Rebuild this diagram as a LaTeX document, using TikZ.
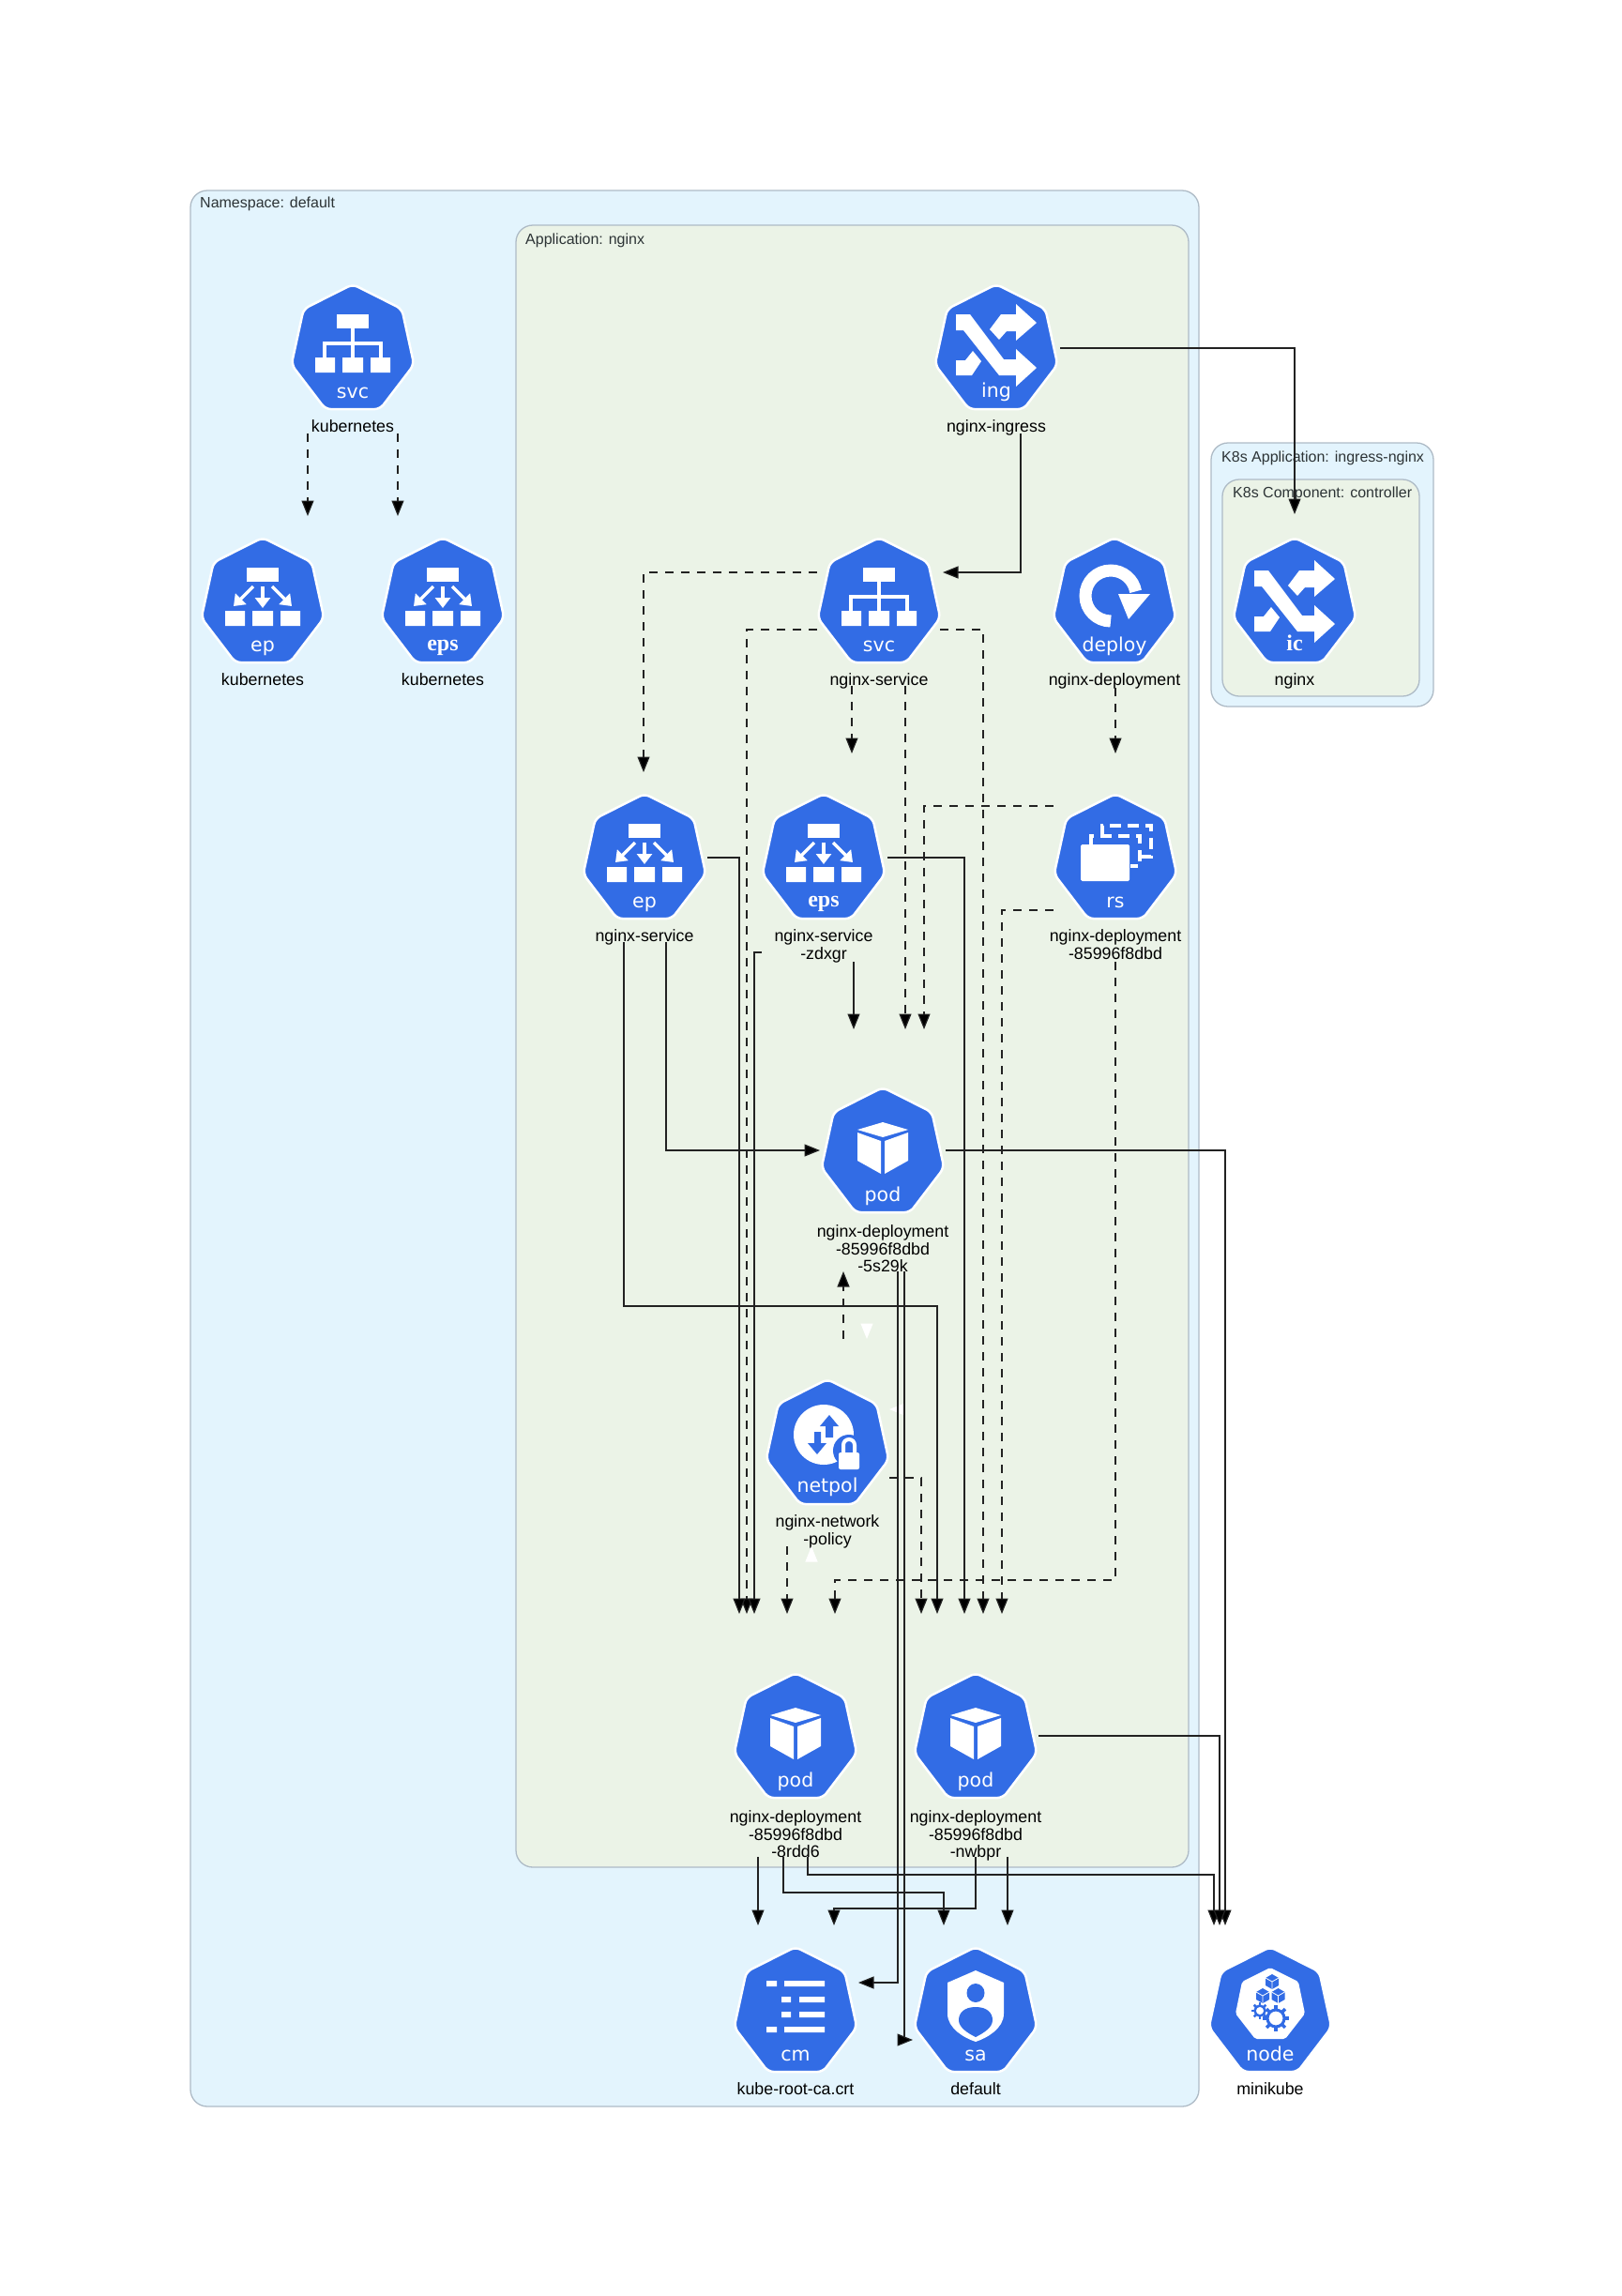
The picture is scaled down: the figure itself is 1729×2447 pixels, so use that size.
\documentclass[tikz,border=0pt]{standalone}
\usepackage{fontspec}
\setmainfont{Liberation Sans}
\newfontfamily\tagfont{DejaVu Sans}
\newfontfamily\tagserif{Liberation Serif}
\usetikzlibrary{shapes.geometric, arrows.meta, positioning}

\definecolor{kblue}{HTML}{326CE5}
\definecolor{nsfill}{HTML}{E3F4FD}
\definecolor{appfill}{HTML}{EBF3E7}
\definecolor{boxedge}{HTML}{AEBBC6}
\definecolor{titletext}{HTML}{2D3436}
\definecolor{linedark}{HTML}{222222}

\tikzstyle{ktag} = [text=white, inner sep=0pt, anchor=base, font=\tagfont\fontsize{20.5}{22}\selectfont]
\tikzstyle{kserif} = [text=white, inner sep=0pt, anchor=base, font=\tagserif\bfseries\fontsize{24}{26}\selectfont]

% shared drawing of the endpoint glyphs
\newcommand{\epshape}{
  \fill[white] (-17,-35) rectangle (17,-20);
  \fill[white] (-40,11) rectangle (-19,27) (-11,11) rectangle (11,27) (19,11) rectangle (40,27);
  \draw[white, line width=3.5pt, -{Triangle[length=11pt,width=16pt]}] (0,-15) -- (0,8);
  \draw[white, line width=3.5pt, -{Triangle[length=11pt,width=16pt]}] (-10,-15) -- (-31,6);
  \draw[white, line width=3.5pt, -{Triangle[length=11pt,width=16pt]}] (10,-15) -- (31,6);
}
\newcommand{\crossshape}{
  \fill[white] (-43,-35) -- (-28,-35) -- (8,13) -- (21,13) -- (21,2) -- (43,22) -- (21,42) -- (21,30) -- (3,30) -- (-35,-18) -- (-43,-18) -- cycle;
  \fill[white] (21,-46) -- (43,-26) -- (21,-7) -- (21,-17) -- (11,-17) -- (3,-8) -- (-7,-19) -- (5,-35) -- (21,-35) -- cycle;
  \fill[white] (-43,14) -- (-33,14) -- (-25,4) -- (-16,15) -- (-26,30) -- (-43,30) -- cycle;
}
\tikzset{
  svcglyph/.pic={
    \fill[white] (-17,-35) rectangle (17,-20);
    \fill[white] (-40,11) rectangle (-19,27) (-11,11) rectangle (11,27) (19,11) rectangle (40,27);
    \draw[white, line width=3.5pt] (0,-20) -- (0,11) (-30,11) -- (-30,-4) -- (30,-4) -- (30,11);
    \node (tag) [ktag] at (0,54) {svc};
  },
  epglyph/.pic={
    \epshape
    \node (tag) [ktag] at (0,54) {ep};
  },
  epsglyph/.pic={
    \epshape
    \node (tag) [kserif] at (0,53) {eps};
  },
  ingglyph/.pic={
    \crossshape
    \node (tag) [ktag] at (0,53) {ing};
  },
  icglyph/.pic={
    \begin{scope}[yshift=-3pt]
      \crossshape
    \end{scope}
    \node (tag) [kserif] at (0,53) {ic};
  },
  deployglyph/.pic={
    \draw[white, line width=13pt] (-4,22) arc (90:350:27);
    \fill[white] (38,-7) -- (4,-7) -- (15,20) -- cycle;
    \node (tag) [ktag] at (0,54) {deploy};
  },
  rsglyph/.pic={
    \draw[white, line width=3.5pt, dash pattern=on 12pt off 7pt] (-26,-13) -- (-26,-22) -- (26,-22) -- (26,10) -- (16,10);
    \draw[white, line width=3.5pt, dash pattern=on 12pt off 7pt] (-14,-22) -- (-14,-33) -- (38,-33) -- (38,0) -- (26,0);
    \fill[white, rounded corners=1.5pt] (-37,-13) rectangle (15,26);
    \node (tag) [ktag] at (0,54) {rs};
  },
  podglyph/.pic={
    \fill[white] (-27,-22) -- (0,-30) -- (27,-22) -- (0,-14) -- cycle;
    \fill[white] (-27,-19) -- (-2,-10) -- (-2,25) -- (-27,11) -- cycle;
    \fill[white] (2,-10) -- (27,-19) -- (27,11) -- (2,25) -- cycle;
    \node (tag) [ktag] at (0,54) {pod};
  },
  netpolglyph/.pic={
    \fill[white] (-4,-8) circle (32);
    \fill[kblue] (2,-29) -- (12,-17) -- (6,-17) -- (6,-5) -- (-2,-5) -- (-2,-17) -- (-8,-17) -- cycle;
    \fill[kblue] (-11,13) -- (-21,1) -- (-14,1) -- (-14,-11) -- (-7,-11) -- (-7,1) -- (-1,1) -- cycle;
    \fill[kblue] (23,9) circle (17);
    \draw[white, line width=4pt] (17,13) -- (17,3) arc (180:360:6) -- (29,13);
    \fill[white, rounded corners=2pt] (12,11) rectangle (34,29);
    \node (tag) [ktag] at (0,53) {netpol};
  },
  cmglyph/.pic={
    \fill[white] (-31,-31) rectangle (-20,-25) (-12,-31) rectangle (31,-25);
    \fill[white] (-15,-14) rectangle (-5,-8) (4,-14) rectangle (31,-8);
    \fill[white] (-15,2) rectangle (-5,8) (4,2) rectangle (31,8);
    \fill[white] (-31,18) rectangle (-20,24) (-12,18) rectangle (31,24);
    \node (tag) [ktag] at (0,54) {cm};
  },
  saglyph/.pic={
    \fill[white] (0,-42) -- (30,-29) -- (30,4) .. controls (30,20) and (12,30) .. (0,34) .. controls (-12,30) and (-30,20) .. (-30,4) -- (-30,-29) -- cycle;
    \fill[kblue] (0,-18) ellipse (9.5 and 10);
    \fill[kblue] (0,-3) .. controls (12,-3) and (18,3) .. (18,11) .. controls (18,19) and (8,25) .. (0,29) .. controls (-8,25) and (-18,19) .. (-18,11) .. controls (-18,3) and (-12,-3) .. (0,-3) -- cycle;
    \node (tag) [ktag] at (0,54) {sa};
  },
  nodeglyph/.pic={
    \fill[white, rounded corners=2pt] (0,-45) -- (30,-30) -- (37,4) -- (16,31) -- (-16,31) -- (-37,4) -- (-30,-30) -- cycle;
    \foreach \cx/\cy in {2/-30, -8/-15, 8.5/-15} {
      \fill[kblue] (\cx,\cy-8) -- (\cx+7,\cy-4) -- (\cx+7,\cy+4) -- (\cx,\cy+8) -- (\cx-7,\cy+4) -- (\cx-7,\cy-4) -- cycle;
      \draw[white, line width=0.8pt] (\cx-7,\cy-4) -- (\cx,\cy) -- (\cx+7,\cy-4) (\cx,\cy) -- (\cx,\cy+8);
    }
    \draw[kblue, line width=3pt] (6,9) circle (9);
    \foreach \a in {0,45,...,315} {\draw[kblue, line width=3.5pt] (6,9) ++(\a:9) -- ++(\a:5);}
    \draw[kblue, line width=2.5pt] (-11,1) circle (5.5);
    \foreach \a in {0,45,...,315} {\draw[kblue, line width=2.5pt] (-11,1) ++(\a:5.5) -- ++(\a:3.5);}
    \node (tag) [ktag] at (0,54) {node};
  },
}

\begin{document}
\begin{tikzpicture}[x=1pt, y=-1pt, node distance=11.5pt]
    \tikzstyle{kicon} = [regular polygon, regular polygon sides=7, minimum size=134pt, inner sep=0pt, outer sep=0pt, fill=kblue, draw=white, line width=2.5pt, rounded corners=6pt, transform shape, yscale=1.045]
    \tikzstyle{klabel} = [inner sep=0pt, align=center, text=black, font=\fontsize{17.8}{18.5}\selectfont]
    \tikzstyle{nsgroup} = [rectangle, draw=boxedge, fill=nsfill, line width=1.3pt, rounded corners=18pt, anchor=north west, inner sep=0pt, outer sep=0pt]
    \tikzstyle{appgroup} = [nsgroup, fill=appfill]
    \tikzstyle{grouptitle} = [anchor=west, inner sep=0pt, text=titletext, font=\fontsize{16}{18}\selectfont]
    \tikzstyle{flow} = [line width=1.2pt, draw=linedark, -{Triangle[length=16.5pt,width=13pt,fill=black]}]
    \tikzstyle{dep} = [flow, dash pattern=on 9pt off 8pt]
    \tikzstyle{ghost} = [line width=1.2pt, draw=white, -{Triangle[length=16.5pt,width=13pt,fill=white]}]
    \tikzstyle{every pic} = [yshift=3pt]

    \useasboundingbox (0,0) rectangle (1729,2447);

    % Groups
    \node (nsbox) [nsgroup, minimum width=1075pt, minimum height=2042pt] at (203,203) {};
    \node (appbox) [appgroup, minimum width=717pt, minimum height=1750pt] at (550,240) {};
    \node (ctlbox) [nsgroup, minimum width=237pt, minimum height=281pt] at (1291,472) {};
    \node (compbox) [appgroup, minimum width=210pt, minimum height=231pt] at (1303,511) {};
    \node (nstitle) [grouptitle] at (213,217) {Namespace: default};
    \node (apptitle) [grouptitle] at (560,256) {Application: nginx};
    \node (ctltitle) [grouptitle] at (1302,488) {K8s Application: ingress-nginx};
    \node (comptitle) [grouptitle] at (1314,526) {K8s Component: controller};

    % Resources
    \node (kubesvc) [kicon] at (376,373) {};
    \pic at (kubesvc) {svcglyph};
    \node (kubesvctext) [klabel, below=of kubesvc] {kubernetes};
    \node (kubeep) [kicon] at (280,643) {};
    \pic at (kubeep) {epglyph};
    \node (kubeeptext) [klabel, below=of kubeep] {kubernetes};
    \node (kubeeps) [kicon] at (472,643) {};
    \pic at (kubeeps) {epsglyph};
    \node (kubeepstext) [klabel, below=of kubeeps] {kubernetes};
    \node (ingress) [kicon] at (1062,373) {};
    \pic at (ingress) {ingglyph};
    \node (ingresstext) [klabel, below=of ingress] {nginx-ingress};
    \node (svc) [kicon] at (937,643) {};
    \pic at (svc) {svcglyph};
    \node (svctext) [klabel, below=of svc] {nginx-service};
    \node (deploy) [kicon] at (1188,643) {};
    \pic at (deploy) {deployglyph};
    \node (deploytext) [klabel, below=of deploy] {nginx-deployment};
    \node (ingctl) [kicon] at (1380,643) {};
    \pic at (ingctl) {icglyph};
    \node (ingctltext) [klabel, below=of ingctl] {nginx};
    \node (ep) [kicon] at (687,916) {};
    \pic at (ep) {epglyph};
    \node (eptext) [klabel, below=of ep] {nginx-service};
    \node (eps) [kicon] at (878,916) {};
    \pic at (eps) {epsglyph};
    \node (epstext) [klabel, below=of eps] {nginx-service\\-zdxgr};
    \node (rs) [kicon] at (1189,916) {};
    \pic at (rs) {rsglyph};
    \node (rstext) [klabel, below=of rs] {nginx-deployment\\-85996f8dbd};
    \node (pod1) [kicon] at (941,1229) {};
    \pic at (pod1) {podglyph};
    \node (pod1text) [klabel, below=13.5pt of pod1] {nginx-deployment\\-85996f8dbd\\-5s29k};
    \node (netpol) [kicon] at (882,1540) {};
    \pic at (netpol) {netpolglyph};
    \node (netpoltext) [klabel, below=of netpol] {nginx-network\\-policy};
    \node (pod2) [kicon] at (848,1853) {};
    \pic at (pod2) {podglyph};
    \node (pod2text) [klabel, below=13.5pt of pod2] {nginx-deployment\\-85996f8dbd\\-8rdd6};
    \node (pod3) [kicon] at (1040,1853) {};
    \pic at (pod3) {podglyph};
    \node (pod3text) [klabel, below=13.5pt of pod3] {nginx-deployment\\-85996f8dbd\\-nwbpr};
    \node (configmap) [kicon] at (848,2145) {};
    \pic at (configmap) {cmglyph};
    \node (configmaptext) [klabel, below=of configmap] {kube-root-ca.crt};
    \node (saccount) [kicon] at (1040,2145) {};
    \pic at (saccount) {saglyph};
    \node (saccounttext) [klabel, below=of saccount] {default};
    \node (minikube) [kicon] at (1354,2145) {};
    \pic at (minikube) {nodeglyph};
    \node (minikubetext) [klabel, below=of minikube] {minikube};

    % White tips
    \draw [ghost] ([shift={(42,-129)}]netpol.center) -- ([shift={(42,-113)}]netpol.center);
    \draw [ghost] ([shift={(81,-38)}]netpol.center) -- ([shift={(66,-38)}]netpol.center);
    \draw [ghost] ([shift={(-17,123)}]netpol.center) -- ([shift={(-17,108)}]netpol.center);

    % Dashed arrows
    \draw [dep] ([shift={(-48,89)}]kubesvc.center) -- ([shift={(48,-93)}]kubeep.center);
    \draw [dep] ([shift={(48,89)}]kubesvc.center) -- ([shift={(-48,-93)}]kubeeps.center);
    \draw [dep] ([shift={(-66,-33)}]svc.center) -| ([shift={(-1,-93)}]ep.center);
    \draw [dep] ([shift={(-66,28)}]svc.center) -| ([shift={(-52,-133)}]pod2.center);
    \draw [dep] ([shift={(65,28)}]svc.center) -| ([shift={(8,-133)}]pod3.center);
    \draw [dep] ([shift={(-29,88)}]svc.center) -- ([shift={(30,-113)}]eps.center);
    \draw [dep] ([shift={(28,88)}]svc.center) -- ([shift={(24,-132)}]pod1.center);
    \draw [dep] ([shift={(1,90)}]deploy.center) -- ([shift={(0,-113)}]rs.center);
    \draw [dep] ([shift={(-66,-57)}]rs.center) -| ([shift={(44,-132)}]pod1.center);
    \draw [dep] ([shift={(-66,54)}]rs.center) -| ([shift={(28,-133)}]pod3.center);
    \draw [dep] ([shift={(0,109)}]rs.center) |- ([shift={(42,-169)}]pod2.center) -- ([shift={(42,-133)}]pod2.center);
    \draw [dep] ([shift={(17,-113)}]netpol.center) -- ([shift={(-42,126)}]pod1.center);
    \draw [dep] ([shift={(-43,108)}]netpol.center) -- ([shift={(-9,-133)}]pod2.center);
    \draw [dep] ([shift={(66,35)}]netpol.center) -| ([shift={(-58,-133)}]pod3.center);

    % Solid arrows
    \draw [flow] ([shift={(26,89)}]ingress.center) |- ([shift={(68,-33)}]svc.center);
    \draw [flow] ([shift={(68,-2)}]ingress.center) -| ([shift={(0,-95)}]ingctl.center);
    \draw [flow] ([shift={(67,-2)}]ep.center) -| ([shift={(-60,-133)}]pod2.center);
    \draw [flow] ([shift={(23,88)}]ep.center) |- ([shift={(-67,-3)}]pod1.center);
    \draw [flow] ([shift={(-22,88)}]ep.center) |- ([shift={(-41,-461)}]pod3.center) -- ([shift={(-41,-133)}]pod3.center);
    \draw [flow] ([shift={(68,-2)}]eps.center) -| ([shift={(-12,-133)}]pod3.center);
    \draw [flow] ([shift={(32,109)}]eps.center) -- ([shift={(-31,-132)}]pod1.center);
    \draw [flow] ([shift={(-66,99)}]eps.center) -| ([shift={(-44,-133)}]pod2.center);
    \draw [flow] ([shift={(67,-3)}]pod1.center) -| ([shift={(-48,-93)}]minikube.center);
    \draw [flow] ([shift={(16,126)}]pod1.center) |- ([shift={(67,-32)}]configmap.center);
    \draw [flow] ([shift={(23,126)}]pod1.center) |- ([shift={(-67,29)}]saccount.center);
    \draw [flow] ([shift={(-40,126)}]pod2.center) -- ([shift={(-40,-93)}]configmap.center);
    \draw [flow] ([shift={(-13,126)}]pod2.center) |- ([shift={(-34,-128)}]saccount.center) -- ([shift={(-34,-93)}]saccount.center);
    \draw [flow] ([shift={(13,126)}]pod2.center) |- ([shift={(-60,-147)}]minikube.center) -- ([shift={(-60,-93)}]minikube.center);
    \draw [flow] ([shift={(67,-3)}]pod3.center) -| ([shift={(-54,-93)}]minikube.center);
    \draw [flow] ([shift={(0,126)}]pod3.center) |- ([shift={(41,-111)}]configmap.center) -- ([shift={(41,-93)}]configmap.center);
    \draw [flow] ([shift={(34,126)}]pod3.center) -- ([shift={(34,-93)}]saccount.center);
\end{tikzpicture}
\end{document}
